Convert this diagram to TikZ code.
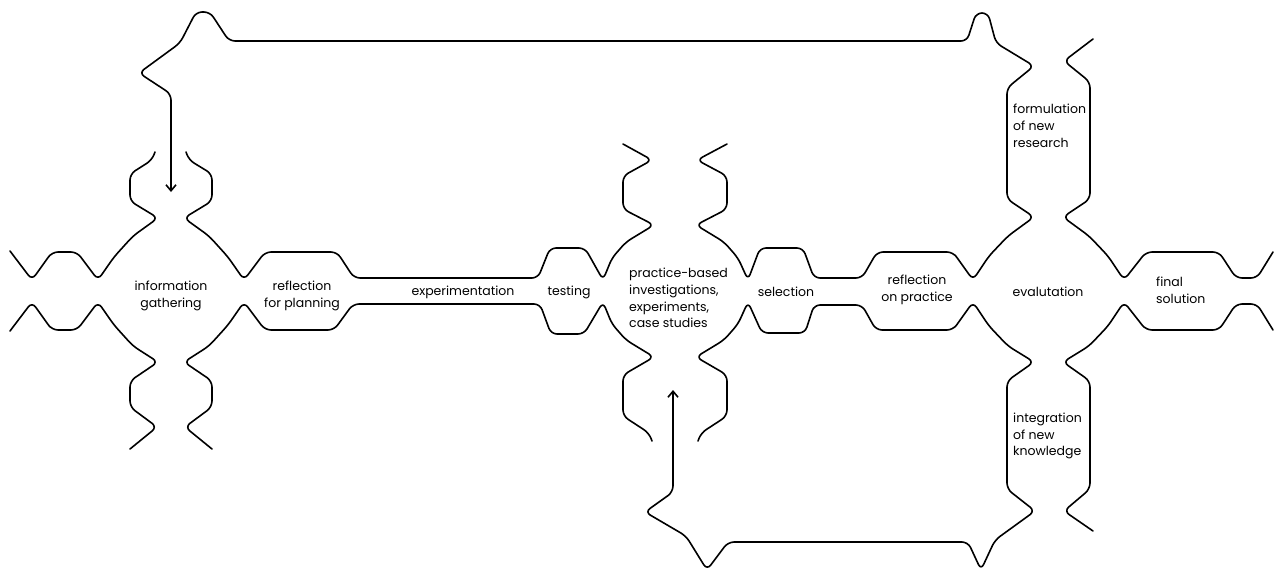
\documentclass[tikz,border=0pt]{standalone}
\usepackage{fontspec}
\newfontfamily\stagefont{Poppins}
\usetikzlibrary{arrows.meta}
\tikzset{
  pipe/.style={line width=1.6pt, rounded corners=6pt, line cap=round, line join=round},
  feed/.style={pipe, -{Straight Barb[length=6pt,width=10pt]}},
  stage/.style={font=\stagefont\fontsize{12.5}{16.8}\selectfont, inner sep=0pt, align=center},
}
\begin{document}
\begin{tikzpicture}[x=1pt, y=-1pt]
        \useasboundingbox (0,0) rectangle (1276,571);
        % coordinates where the two loops come back in
        \coordinate (gatherin)   at (171,192);
        \coordinate (practicein) at (673,390);
        % labels of the stages
        \node[stage] (gather)     at (171,296) {information\\gathering};
        \node[stage] (planning)   at (302,296) {reflection\\for planning};
        \node[stage] (experiment) at (463,292) {experimentation};
        \node[stage] (testing)    at (569,292) {testing};
        \node[stage, align=left, anchor=west] (practice) at (629,298) {practice-based\\investigations,\\experiments,\\case studies};
        \node[stage] (selection)  at (786,292) {selection};
        \node[stage] (reflect)    at (917,290) {reflection\\on practice};
        \node[stage] (evaluate)   at (1048,292) {evalutation};
        \node[stage, align=left, anchor=west] (final)     at (1156,290) {final\\solution};
        \node[stage, align=left, anchor=west] (formulate) at (1013,126) {formulation\\of new\\research};
        \node[stage, align=left, anchor=west] (integrate) at (1013,436) {integration\\of new\\knowledge};
        % drawing the upper wall of the channel
        \draw[pipe] (10,251) -- (32,280) -- (52,252) -- (77,252) -- (98,280) -- (114,257) -- (133,236)
                -- (158,218) -- (130,201) -- (130,174) -- (152,160) -- (155,152);
        \draw[pipe] (186,152) -- (189,160) -- (212,174) -- (212,201) -- (184,218) -- (209,236) -- (228,257)
                -- (244,280) -- (265,252) -- (337,252) -- (354,278) -- (538,278) -- (550,248) -- (585,248)
                -- (603,280) -- (612,258) -- (626,242) -- (654,225) -- (623,209) -- (623,176) -- (652,160) -- (623,144);
        \draw[feed] (727,144) -- (697,160) -- (727,176) -- (727,209) -- (696,225) -- (724,242) -- (738,258)
                -- (748,280) -- (760,248) -- (803,248) -- (814,278) -- (862,278) -- (877,252) -- (953,252)
                -- (973,280) -- (989,256) -- (1008,236) -- (1034,217) -- (1007,199) -- (1007,88) -- (1034,66)
                -- (996,43) -- (988,13) -- (976,13) -- (967,41) -- (229,41) -- (210,12) -- (196,12)
                -- (180,43) -- (139,73) -- (171,94) -- (gatherin);
        \draw[pipe] (1093,39) -- (1064,61) -- (1090,82) -- (1090,199) -- (1063,217) -- (1089,236) -- (1108,256)
                -- (1124,280) -- (1146,252) -- (1219,252) -- (1236,278) -- (1257,278) -- (1273,252);
        % drawing the lower wall of the channel
        \draw[pipe] (10,331) -- (32,302) -- (52,330) -- (77,330) -- (98,302) -- (114,325) -- (133,346)
                -- (158,362) -- (130,381) -- (130,407) -- (157,427) -- (130,449);
        \draw[pipe] (212,449) -- (185,427) -- (212,407) -- (212,381) -- (184,362) -- (209,346) -- (228,325)
                -- (244,302) -- (265,330) -- (334,330) -- (353,304) -- (540,304) -- (551,334) -- (584,334)
                -- (603,302) -- (612,324) -- (626,340) -- (654,357) -- (623,375) -- (623,416) -- (649,433) -- (652,441);
        \draw[feed] (698,441) -- (701,433) -- (727,416) -- (727,375) -- (696,357) -- (724,340) -- (738,324)
                -- (748,302) -- (762,333) -- (805,333) -- (814,305) -- (862,305) -- (876,330) -- (953,330)
                -- (973,302) -- (989,326) -- (1008,346) -- (1034,362) -- (1007,381) -- (1007,489) -- (1035,511)
                -- (995,540) -- (981,570) -- (968,542) -- (728,542) -- (707,570) -- (686,536) -- (645,512)
                -- (673,492) -- (practicein);
        \draw[pipe] (1093,531) -- (1064,511) -- (1090,489) -- (1090,381) -- (1063,362) -- (1089,346) -- (1108,326)
                -- (1124,302) -- (1146,330) -- (1219,330) -- (1236,304) -- (1257,304) -- (1273,330);
\end{tikzpicture}
\end{document}
